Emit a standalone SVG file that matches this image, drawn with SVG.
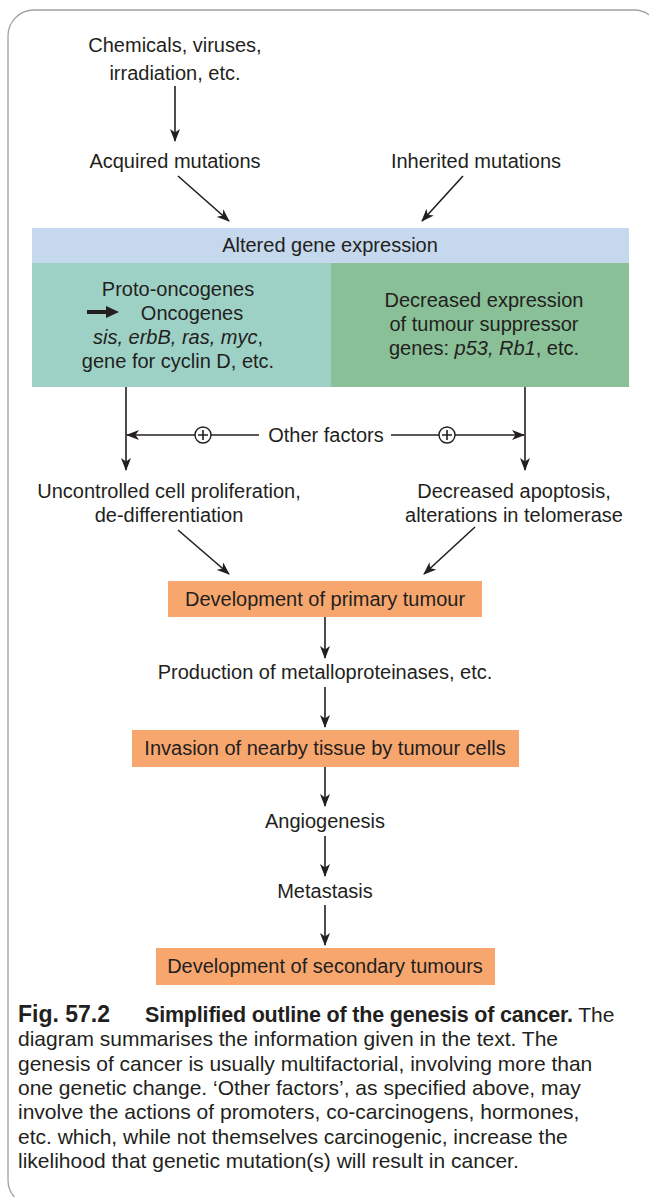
<svg xmlns="http://www.w3.org/2000/svg" width="649" height="1197" viewBox="0 0 649 1197">
<defs>
<marker id="ah" viewBox="0 0 13 10" refX="12" refY="5" markerWidth="13" markerHeight="10" markerUnits="userSpaceOnUse" orient="auto">
<path d="M0,0 L13,5 L0,10 L3.5,5 Z" fill="#231f20"/>
</marker>
</defs>
<style>
text{font-family:"Liberation Sans",Arial,Helvetica,sans-serif;font-size:20px;fill:#231f20;text-anchor:middle}
.cap{text-anchor:start;font-size:21px}
.b{font-weight:bold}
.i{font-style:italic}
.ln{stroke:#231f20;stroke-width:1.6;fill:none}
.ar{stroke:#231f20;stroke-width:1.6;fill:none;marker-end:url(#ah)}
.or{fill:#f7a66e}
</style>
<rect x="8" y="10" width="652" height="1196" rx="26" fill="#fff" stroke="#a0a0a0" stroke-width="1.3"/>

<g id="n-chemicals"><text x="175" y="52">Chemicals, viruses,</text><text x="175" y="80">irradiation, etc.</text></g>
<g id="n-acquired"><text x="175" y="168">Acquired mutations</text></g>
<g id="n-inherited"><text x="476" y="168">Inherited mutations</text></g>
<g id="n-altered"><rect x="32" y="228" width="597" height="35" fill="#c5d8ed"/><text x="330" y="252">Altered gene expression</text></g>
<g id="n-onco"><rect x="32" y="263" width="299" height="124" fill="#9ed1c6"/>
<text x="178" y="296">Proto-oncogenes</text>
<text x="192" y="320">Oncogenes</text>
<path d="M87,312 L108,312" stroke="#231f20" stroke-width="4"/><path d="M106,306 L119,312 L106,318 Z" fill="#231f20"/>
<text x="178" y="344"><tspan class="i">sis, erbB, ras, myc</tspan>,</text>
<text x="178" y="368">gene for cyclin D, etc.</text></g>
<g id="n-suppressor"><rect x="331" y="263" width="298" height="124" fill="#89c097"/>
<text x="484" y="307">Decreased expression</text>
<text x="484" y="331">of tumour suppressor</text>
<text x="484" y="355">genes: <tspan class="i">p53, Rb1</tspan>, etc.</text></g>
<g id="n-other"><text x="326" y="442">Other factors</text></g>
<g id="n-prolif"><text x="169" y="498">Uncontrolled cell proliferation,</text><text x="169" y="522">de-differentiation</text></g>
<g id="n-apoptosis"><text x="514" y="498">Decreased apoptosis,</text><text x="514" y="522">alterations in telomerase</text></g>
<g id="n-primary"><rect class="or" x="168" y="581" width="314" height="36"/><text x="325" y="606">Development of primary tumour</text></g>
<g id="n-metallo"><text x="325" y="679">Production of metalloproteinases, etc.</text></g>
<g id="n-invasion"><rect class="or" x="132" y="730" width="387" height="37"/><text x="325" y="755">Invasion of nearby tissue by tumour cells</text></g>
<g id="n-angio"><text x="325" y="828">Angiogenesis</text></g>
<g id="n-meta"><text x="325" y="898">Metastasis</text></g>
<g id="n-secondary"><rect class="or" x="156" y="948" width="339" height="37"/><text x="325" y="973">Development of secondary tumours</text></g>

<g id="connectors">
<path class="ar" d="M175,86 L175,141"/>
<path class="ar" d="M178,176 L229,221"/>
<path class="ar" d="M463,176 L422,221"/>
<path class="ar" d="M126,387 L126,470"/>
<path class="ar" d="M525,387 L525,470"/>
<path class="ar" d="M259,435 L127,435"/>
<path class="ar" d="M391,435 L524,435"/>
<circle cx="203" cy="435" r="8" fill="#fff" stroke="#231f20" stroke-width="1.4"/>
<path class="ln" d="M198,435 H208 M203,430 V440" stroke-width="1.4"/>
<circle cx="447" cy="435" r="8" fill="#fff" stroke="#231f20" stroke-width="1.4"/>
<path class="ln" d="M442,435 H452 M447,430 V440" stroke-width="1.4"/>
<path class="ar" d="M178,530 L229,574"/>
<path class="ar" d="M475,527 L424,574"/>
<path class="ar" d="M325,617 L325,658"/>
<path class="ar" d="M325,687 L325,727"/>
<path class="ar" d="M325,767 L325,806"/>
<path class="ar" d="M325,836 L325,876"/>
<path class="ar" d="M325,905 L325,945"/>
</g>

<g id="caption">
<text class="cap" x="18" y="1022"><tspan class="b" font-size="23">Fig. 57.2</tspan><tspan class="b" font-size="21.5" x="145" textLength="428">Simplified outline of the genesis of cancer.</tspan> The</text>
<text class="cap" x="18" y="1046">diagram summarises the information given in the text. The</text>
<text class="cap" x="18" y="1071">genesis of cancer is usually multifactorial, involving more than</text>
<text class="cap" x="18" y="1095">one genetic change. ‘Other factors’, as specified above, may</text>
<text class="cap" x="18" y="1119">involve the actions of promoters, co-carcinogens, hormones,</text>
<text class="cap" x="18" y="1144">etc. which, while not themselves carcinogenic, increase the</text>
<text class="cap" x="18" y="1168">likelihood that genetic mutation(s) will result in cancer.</text>
</g>
</svg>
